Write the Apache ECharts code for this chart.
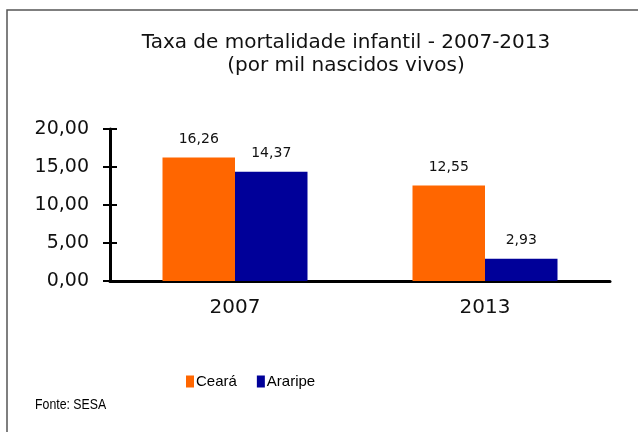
<!DOCTYPE html>
<html lang="pt">
<head>
<meta charset="UTF-8">
<title>Taxa de mortalidade infantil</title>
<script src="https://cdn.jsdelivr.net/npm/echarts@6/dist/echarts.min.js"></script>
<style>
  html, body { margin: 0; padding: 0; background: #fff; }
  #main { width: 638px; height: 432px; }
</style>
</head>
<body>
<div id="main"></div>
<script>
var anos = ['2007', '2013'];
var ceara = [16.26, 12.55];
var araripe = [14.37, 2.93];
var yTicks = [0, 5, 10, 15, 20];

function br(v) {
    return Number(v).toFixed(2).replace('.', ',');
}

var chart = echarts.init(document.getElementById('main'));

// texto do grafico original e mais largo que Arial, DejaVu chega perto
var largo = 'DejaVu Sans, Verdana, sans-serif';
var estreito = 'Liberation Sans, Arial, sans-serif';
var eixo = { lineStyle: { color: '#000', width: 3 } };
var tick = { color: '#000', width: 2 };

var option = {
    animation: false,
    textStyle: { fontFamily: largo },
    title: {
        text: 'Taxa de mortalidade infantil - 2007-2013\n(por mil nascidos vivos)',
        left: 341,
        top: 26,
        textAlign: 'center',
        textStyle: { fontFamily: largo, fontSize: 20, fontWeight: 'normal', color: '#111', lineHeight: 23 }
    },
    legend: {
        data: ['Ceará', 'Araripe'],
        left: 181,
        top: 369,
        itemWidth: 8,
        itemHeight: 12,
        itemGap: 20,
        icon: 'rect',
        textStyle: { fontFamily: estreito, fontSize: 15, color: '#000', padding: [0, 0, 0, -3] }
    },
    grid: { left: 110, right: 28, top: 129, bottom: 151 },
    xAxis: [{
        type: 'category',
        data: anos,
        axisLine: eixo,
        axisTick: { length: 6, lineStyle: tick },
        axisLabel: { fontSize: 20, color: '#111', margin: 17 }
    }, {
        type: 'category',
        data: anos,
        position: 'bottom',
        axisLine: { show: false },
        axisTick: { inside: true, length: 6, lineStyle: tick },
        axisLabel: { show: false }
    }],
    yAxis: [{
        type: 'value',
        min: yTicks[0],
        max: yTicks[yTicks.length - 1],
        interval: 5,
        splitLine: { show: false },
        axisLine: { show: true, lineStyle: { color: '#000', width: 3 } },
        axisTick: { show: true, length: 7, lineStyle: tick },
        axisLabel: { fontSize: 19, color: '#111', margin: 21, formatter: br }
    }, {
        type: 'value',
        min: yTicks[0],
        max: yTicks[yTicks.length - 1],
        interval: 5,
        position: 'left',
        splitLine: { show: false },
        axisLine: { show: false },
        axisTick: { show: true, inside: true, length: 7, lineStyle: tick },
        axisLabel: { show: false }
    }],
    series: [{
        name: 'Ceará',
        type: 'bar',
        data: ceara,
        barGap: '0%',
        barCategoryGap: '42%',
        itemStyle: { color: '#FF6600' },
        label: { show: true, position: 'top', distance: 11, fontSize: 14, color: '#111', formatter: function (p) { return br(p.value); } }
    }, {
        name: 'Araripe',
        type: 'bar',
        data: araripe,
        barGap: '0%',
        barCategoryGap: '42%',
        itemStyle: { color: '#000099' },
        label: { show: true, position: 'top', distance: 11, fontSize: 14, color: '#111', formatter: function (p) { return br(p.value); } }
    }],
    graphic: [{
        type: 'polyline',
        shape: { points: [[7, 432], [7, 10], [638, 10]] },
        style: { stroke: '#555', lineWidth: 1.5, fill: null }
    }, {
        type: 'text',
        x: 35,
        y: 398,
        scaleX: 0.88,
        style: { text: 'Fonte: SESA', fontSize: 14, fill: '#000', fontFamily: estreito }
    }]
};

chart.setOption(option);
</script>
</body>
</html>
